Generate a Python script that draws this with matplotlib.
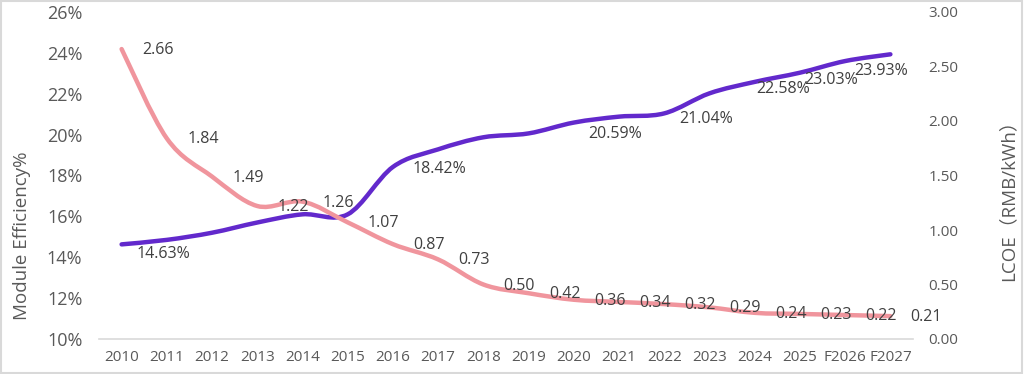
import matplotlib
matplotlib.use('Agg')
import matplotlib.pyplot as plt
from matplotlib.path import Path
from matplotlib.patches import PathPatch, Rectangle

categories = ['2010', '2011', '2012', '2013', '2014', '2015', '2016', '2017', '2018',
              '2019', '2020', '2021', '2022', '2023', '2024', '2025', 'F2026', 'F2027']
efficiency = [14.63, 14.85, 15.20, 15.70, 16.10, 16.10, 18.42, 19.28, 19.87,
              20.06, 20.59, 20.88, 21.04, 22.02, 22.58, 23.03, 23.60, 23.93]
lcoe = [2.66, 1.84, 1.49, 1.22, 1.26, 1.07, 0.87, 0.73, 0.50,
        0.42, 0.36, 0.34, 0.32, 0.29, 0.24, 0.23, 0.22, 0.21]
eff_label_idx = [0, 6, 10, 12, 14, 15, 17]
eff_ticks = [10, 12, 14, 16, 18, 20, 22, 24, 26]
lcoe_ticks = [0.0, 0.5, 1.0, 1.5, 2.0, 2.5, 3.0]

# label offsets in pixels (style only)
eff_offsets = {0: (42, -10), 6: (46, -2), 10: (41, -11), 12: (42, -6),
               14: (28, -7), 15: (31, -7), 17: (-9, -17)}
lcoe_offset = (36, -1)

PURPLE = '#6229CC'
PINK = '#F0959D'
TXT = '#404040'
TICK = '#595959'
FONT = ['Open Sans', 'Noto Sans CJK SC', 'DejaVu Sans']

plt.rcParams['font.family'] = FONT


def smooth_path(xs, ys):
    pts = list(zip(xs, ys))
    n = len(pts)
    verts = [pts[0]]
    codes = [Path.MOVETO]
    for i in range(n - 1):
        p0 = pts[i - 1] if i > 0 else pts[i]
        p1 = pts[i]
        p2 = pts[i + 1]
        p3 = pts[i + 2] if i + 2 < n else pts[i + 1]
        c1 = (p1[0] + (p2[0] - p0[0]) / 6.0, p1[1] + (p2[1] - p0[1]) / 6.0)
        c2 = (p2[0] - (p3[0] - p1[0]) / 6.0, p2[1] - (p3[1] - p1[1]) / 6.0)
        verts += [c1, c2, p2]
        codes += [Path.CURVE4] * 3
    return Path(verts, codes)


fig = plt.figure(figsize=(10.24, 3.74), dpi=100)
ax = fig.add_axes([99 / 1024, 35 / 374, 814 / 1024, 327 / 374])
ax2 = ax.twinx()

x = list(range(len(categories)))

ax.add_patch(PathPatch(smooth_path(x, efficiency), fill=False, edgecolor=PURPLE,
                       lw=3.2, capstyle='round', joinstyle='round', zorder=3))
ax2.add_patch(PathPatch(smooth_path(x, lcoe), fill=False, edgecolor=PINK,
                        lw=3.2, capstyle='round', joinstyle='round', zorder=3))

ax.set_xlim(-0.5, len(categories) - 0.5)
ax.set_ylim(10, 26)
ax2.set_ylim(0, 3)
ax.set_xticks(x)
ax.set_xticklabels(categories)
ax.set_yticks(eff_ticks)
ax.set_yticklabels([f'{t}%' for t in eff_ticks])
ax2.set_yticks(lcoe_ticks)
ax2.set_yticklabels([f'{t:.2f}' for t in lcoe_ticks])

for a in (ax, ax2):
    for s in ['top', 'left', 'right', 'bottom']:
        a.spines[s].set_visible(False)
ax.spines['bottom'].set_visible(True)
ax.spines['bottom'].set_color('#D9D9D9')
ax.spines['bottom'].set_linewidth(1.2)

ax.tick_params(axis='x', length=0, pad=8, labelsize=11, labelcolor=TICK)
ax.tick_params(axis='y', length=0, pad=12, labelsize=13, labelcolor=TICK)
ax2.tick_params(axis='y', length=0, pad=11, labelsize=11, labelcolor=TICK)

for i in eff_label_idx:
    dx, dy = eff_offsets[i]
    ax.annotate(f'{efficiency[i]:.2f}%', (x[i], efficiency[i]), xytext=(dx, dy),
                textcoords='offset pixels', ha='center', va='center',
                fontsize=11.5, color=TXT, zorder=5)

for i, v in enumerate(lcoe):
    ax2.annotate(f'{v:.2f}', (x[i], v), xytext=lcoe_offset,
                 textcoords='offset pixels', ha='center', va='center',
                 fontsize=11.5, color=TXT, zorder=5)

fig.text(22 / 1024, (374 - 236) / 374, 'Module Efficiency%', rotation=90,
         ha='center', va='center', fontsize=13.5, color=TICK)
fig.text(1008 / 1024, (374 - 196) / 374, 'LCOE（RMB/kWh）', rotation=90,
         ha='center', va='center', fontsize=13.5, color=TICK)

fig.patches.append(Rectangle((0.001, 0.002), 0.997, 0.995, transform=fig.transFigure,
                             fill=False, edgecolor='#D9D9D9', lw=1.5))

fig.savefig('out.png', dpi=100)
